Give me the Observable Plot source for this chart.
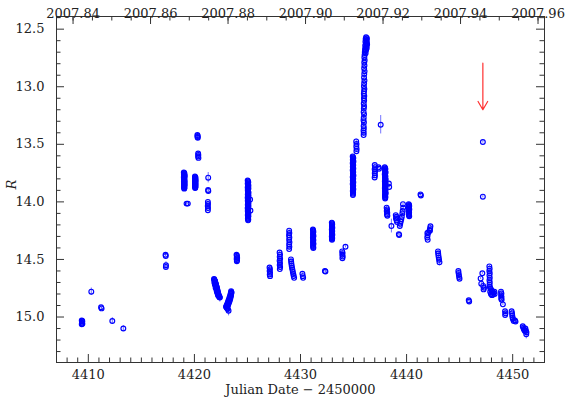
<!DOCTYPE html>
<html><head><meta charset="utf-8">
<script src="https://cdn.jsdelivr.net/npm/d3@7"></script>
<script src="https://cdn.jsdelivr.net/npm/@observablehq/plot@0.6"></script>
<style>body{margin:0;background:#fff}</style>
</head><body><div id="chart"></div>
<script>
// Observations: [JD-2450000, R magnitude, error (optional)]
const early = [
 [4409.38,15.030],[4409.42,15.040],[4409.40,15.050],[4409.44,15.058],[4409.38,15.062],[4409.43,15.035],
 [4410.28,14.780,0.032],
 [4411.20,14.915],[4411.25,14.925],
 [4412.26,15.035,0.03],
 [4413.30,15.100,0.026],
 [4417.28,14.460],[4417.30,14.470],
 [4417.32,14.550,0.03],[4417.31,14.565,0.02]
];
const rise = [
 [4419.00,13.745],[4419.06,13.755],[4419.02,13.765],[4419.08,13.775],[4419.00,13.785],[4419.05,13.795],[4419.02,13.805],[4419.07,13.815],[4419.01,13.825],[4419.06,13.835],[4419.03,13.845],[4419.08,13.855],[4419.02,13.865],[4419.06,13.875],[4419.04,13.885],
 [4419.04,13.750],[4419.01,13.760],[4419.07,13.770],[4419.03,13.780],[4419.06,13.790],[4419.01,13.800],[4419.05,13.810],[4419.03,13.820],[4419.08,13.830],[4419.02,13.840],[4419.06,13.850],[4419.04,13.860],[4419.01,13.870],[4419.05,13.880],
 [4419.26,14.015],[4419.38,14.015],
 [4420.05,13.780],[4420.10,13.790],[4420.06,13.800],[4420.11,13.810],[4420.05,13.820],[4420.10,13.830],[4420.07,13.840],[4420.11,13.850],[4420.05,13.860],[4420.09,13.870],[4420.07,13.880],
 [4420.08,13.785],[4420.05,13.795],[4420.09,13.805],[4420.07,13.815],[4420.10,13.825],[4420.06,13.835],[4420.09,13.845],[4420.06,13.855],[4420.10,13.865],[4420.08,13.875],
 [4420.28,13.420],[4420.31,13.428],[4420.29,13.436],[4420.32,13.443],
 [4420.35,13.580],[4420.37,13.593],[4420.35,13.606],[4420.38,13.618],
 [4421.30,13.790,0.045],[4421.29,13.897],[4421.31,13.905],
 [4421.27,14.000],[4421.28,14.018],[4421.26,14.036],[4421.28,14.054],[4421.27,14.072],
 [4421.85,14.670],[4421.90,14.680],[4421.95,14.690],[4421.88,14.700],[4421.98,14.705],[4422.02,14.715],[4421.93,14.720],[4422.05,14.728],[4422.10,14.740],[4422.00,14.745],[4422.14,14.755],[4422.08,14.765],[4422.18,14.770],[4422.12,14.780],[4422.22,14.785],[4422.18,14.795],[4422.26,14.800],[4422.22,14.810],[4422.30,14.815],[4422.34,14.825],[4422.40,14.830,0.04],
 [4421.87,14.675],[4421.92,14.688],[4421.97,14.700],[4422.00,14.712],[4422.04,14.722],[4422.07,14.735],[4422.11,14.748],[4422.15,14.762],[4422.16,14.775],[4422.20,14.790],[4422.24,14.800],[4422.28,14.808],[4422.32,14.820],[4422.37,14.828],
 [4423.46,14.775],[4423.50,14.790],[4423.42,14.795],[4423.38,14.810],[4423.45,14.815],[4423.33,14.825],[4423.40,14.835],[4423.28,14.840],[4423.35,14.850],[4423.22,14.855],[4423.30,14.865],[4423.16,14.870],[4423.24,14.880],[4423.10,14.885],[4423.18,14.895],[4423.04,14.900],[4423.12,14.905],[4422.98,14.910],[4423.06,14.920],[4423.15,14.930],[4423.22,14.945,0.045],
 [4423.48,14.782],[4423.44,14.800],[4423.40,14.818],[4423.36,14.830],[4423.32,14.845],[4423.26,14.860],[4423.20,14.875],[4423.14,14.890],[4423.08,14.898],[4423.02,14.912],[4423.10,14.925],
 [4423.97,14.460],[4424.01,14.468],[4423.99,14.478],[4424.03,14.488],[4423.98,14.497],[4424.02,14.506],[4424.00,14.516],
 [4425.02,13.815],[4425.08,13.830],[4425.03,13.845],[4425.09,13.860],[4425.02,13.875],[4425.07,13.890],[4425.04,13.905],[4425.10,13.920],[4425.03,13.935],[4425.08,13.950],[4425.02,13.965],[4425.07,13.980],[4425.04,13.995],[4425.10,14.010],[4425.03,14.025],[4425.08,14.040],[4425.02,14.055],[4425.07,14.070],[4425.04,14.085],[4425.09,14.100],[4425.03,14.115],[4425.07,14.130],[4425.04,14.145],[4425.06,14.160],
 [4425.05,13.822],[4425.03,13.837],[4425.07,13.852],[4425.05,13.867],[4425.09,13.882],[4425.03,13.897],[4425.07,13.912],[4425.05,13.927],[4425.09,13.942],[4425.04,13.957],[4425.08,13.972],[4425.03,13.987],[4425.06,14.002],[4425.05,14.017],[4425.09,14.032],[4425.04,14.047],[4425.08,14.062],[4425.03,14.077],[4425.07,14.092],[4425.05,14.107],[4425.09,14.122],[4425.05,14.137],[4425.08,14.152],
 [4425.25,13.980],[4425.28,14.075]
];
const mid = [
 [4427.08,14.570],[4427.12,14.585],[4427.09,14.600],[4427.13,14.615],[4427.10,14.630],[4427.13,14.645],
 [4428.03,14.440],[4428.07,14.458],[4428.04,14.476],[4428.08,14.494],[4428.03,14.512],[4428.07,14.530],[4428.04,14.548],[4428.08,14.566],[4428.05,14.584],
 [4428.93,14.250],[4428.95,14.270],[4428.92,14.290],[4428.95,14.310],[4428.93,14.330],[4428.96,14.350],[4428.93,14.370],[4428.95,14.390],[4428.93,14.410],
 [4429.10,14.500],[4429.12,14.518],[4429.14,14.536],[4429.17,14.554],[4429.20,14.572],[4429.24,14.590],[4429.28,14.608],[4429.32,14.626],[4429.36,14.644],[4429.40,14.660],
 [4430.18,14.625],[4430.22,14.645],[4430.25,14.660],
 [4431.17,14.240],[4431.21,14.258],[4431.18,14.276],[4431.22,14.294],[4431.17,14.312],[4431.21,14.330],[4431.18,14.348],[4431.22,14.366],[4431.19,14.384],[4431.21,14.400],
 [4431.19,14.249],[4431.20,14.267],[4431.19,14.285],[4431.20,14.303],[4431.19,14.321],[4431.20,14.339],[4431.20,14.357],[4431.19,14.375],[4431.20,14.392],
 [4432.30,14.600],[4432.35,14.605],
 [4432.95,14.180],[4432.99,14.195],[4432.96,14.210],[4433.00,14.225],[4432.95,14.240],[4432.99,14.255],[4432.96,14.270],[4433.00,14.285],[4432.95,14.300],[4432.99,14.315],[4432.97,14.330],
 [4432.97,14.187],[4432.97,14.202],[4432.98,14.217],[4432.97,14.232],[4432.98,14.247],[4432.97,14.262],[4432.98,14.277],[4432.97,14.292],[4432.98,14.307],[4432.96,14.322],
 [4433.93,14.430],[4433.97,14.445],[4433.94,14.460],[4433.98,14.475],[4433.95,14.490],
 [4434.24,14.390]
];
const peak = [
 [4434.92,13.605],[4434.98,13.620],[4434.93,13.635],[4434.99,13.650],[4434.92,13.665],[4434.97,13.680],[4434.93,13.695],[4434.98,13.710],[4434.92,13.725],[4434.97,13.740],[4434.94,13.755],[4434.99,13.770],[4434.92,13.785],[4434.97,13.800],[4434.93,13.815],[4434.98,13.830],[4434.92,13.845],[4434.97,13.860],[4434.94,13.875],[4434.98,13.890],[4434.93,13.905],[4434.96,13.920],[4434.94,13.940],
 [4434.95,13.612],[4434.95,13.627],[4434.96,13.642],[4434.95,13.657],[4434.95,13.672],[4434.96,13.687],[4434.95,13.702],[4434.95,13.717],[4434.95,13.732],[4434.96,13.747],[4434.95,13.762],[4434.95,13.777],[4434.96,13.792],[4434.95,13.807],[4434.95,13.822],[4434.96,13.837],[4434.95,13.852],[4434.95,13.867],[4434.96,13.882],[4434.95,13.897],[4434.95,13.912],[4434.95,13.930],
 [4435.25,13.475,0.02],[4435.28,13.497],[4435.26,13.518],[4435.29,13.540],[4435.27,13.560],
 [4436.18,12.570],[4436.26,12.578],[4436.14,12.586],[4436.24,12.594],[4436.20,12.602],[4436.12,12.610],[4436.26,12.618],[4436.18,12.626],[4436.28,12.634],[4436.10,12.642],[4436.22,12.650],[4436.14,12.658],[4436.24,12.666],[4436.08,12.674],[4436.18,12.682],[4436.12,12.690],[4436.06,12.700],[4436.14,12.710],
 [4436.04,12.725],[4436.02,12.745],[4436.05,12.770],[4436.01,12.790],[4436.03,12.815],[4436.00,12.840],[4436.04,12.865],[4436.01,12.890],[4435.99,12.920],[4436.03,12.945],[4436.00,12.970],[4435.98,12.995],[4436.02,13.020],[4435.99,13.040],[4435.97,13.060],[4436.01,13.080],[4435.98,13.100],[4436.00,13.120],[4435.96,13.145],[4435.99,13.170],[4435.97,13.190],[4435.95,13.220],[4435.99,13.240],[4435.96,13.270],[4435.94,13.290],[4435.98,13.310],[4435.95,13.340],[4435.97,13.360],[4435.94,13.380],[4435.96,13.400],[4435.95,13.420],
 [4437.56,13.330,0.08],
 [4437.00,13.680],[4437.03,13.698],[4436.99,13.716],[4437.03,13.734],[4437.00,13.752],[4437.02,13.770],[4436.99,13.788],[4437.36,13.700],[4437.40,13.712],
 [4437.94,13.700],[4438.00,13.715],[4437.95,13.730],[4438.02,13.745],[4437.94,13.760],[4438.00,13.775],[4437.96,13.790],[4438.03,13.805],[4437.95,13.820],[4438.01,13.835],[4437.96,13.850],[4438.03,13.865],[4437.95,13.880],[4438.01,13.895],[4437.97,13.910],[4438.03,13.925],[4437.96,13.940],[4438.00,13.955],[4437.98,13.970],
 [4437.98,13.707],[4437.98,13.722],[4437.99,13.737],[4437.98,13.752],[4437.97,13.767],[4437.99,13.782],[4437.99,13.797],[4437.98,13.812],[4437.98,13.827],[4437.99,13.842],[4437.99,13.857],[4437.98,13.872],[4437.98,13.887],[4437.99,13.902],[4438.00,13.917],[4437.99,13.932],[4437.98,13.947],[4437.99,13.962],
 [4438.33,13.840],[4438.36,13.870],
 [4438.12,14.050],[4438.16,14.065],[4438.13,14.080],[4438.18,14.095],[4438.15,14.110],[4438.19,14.120],
 [4438.57,14.210,0.06],
 [4438.98,14.115],[4439.03,14.130],[4439.00,14.145],[4439.06,14.160],[4439.10,14.175],
 [4439.27,14.280],[4439.30,14.287],
 [4439.66,14.020],[4439.68,14.050],[4439.63,14.080],[4439.60,14.100],[4439.55,14.130],[4439.50,14.150],[4439.45,14.170],[4439.40,14.190],[4439.36,14.210,0.03],
 [4440.20,14.020],[4440.25,14.035],[4440.21,14.050],[4440.26,14.065],[4440.20,14.080],[4440.24,14.095],[4440.21,14.110],[4440.25,14.125],
 [4440.23,14.027],[4440.23,14.042],[4440.23,14.057],[4440.23,14.072],[4440.22,14.087],[4440.23,14.102],[4440.23,14.117],
 [4441.31,13.935],[4441.35,13.945]
];
const decline = [
 [4441.96,14.270],[4441.98,14.290],[4441.95,14.310],[4441.99,14.330],[4442.05,14.265],[4442.18,14.245],[4442.22,14.228],[4442.25,14.212],[4442.20,14.250],
 [4442.96,14.430],[4442.98,14.448],[4443.00,14.466],[4443.03,14.484],[4443.06,14.502],[4443.10,14.525,0.03],
 [4444.88,14.600],[4444.90,14.618],[4444.93,14.636],[4444.96,14.652],[4444.99,14.668],
 [4445.86,14.855],[4445.90,14.865],
 [4447.19,13.480],[4447.19,13.955],
 [4447.14,14.620],[4446.98,14.665],[4447.04,14.710],[4447.22,14.730],[4447.30,14.745],[4447.26,14.760],
 [4447.80,14.560],[4447.83,14.580],[4447.80,14.600],[4447.84,14.620],[4447.81,14.640],[4447.84,14.660],[4447.81,14.680],[4447.84,14.700],[4447.82,14.720],
 [4447.85,14.740],[4447.92,14.755],[4448.00,14.768],[4448.10,14.778],[4448.20,14.788],[4447.95,14.800],[4448.05,14.810],[4448.15,14.805],[4448.28,14.780],[4447.88,14.780],[4448.30,14.800],
 [4448.90,14.780],[4448.94,14.795],[4448.91,14.810],[4448.95,14.825],[4448.92,14.840],[4448.96,14.850],
 [4449.08,14.890],[4449.28,14.950],[4449.32,14.968],[4449.29,14.982],
 [4449.90,14.950],[4449.94,14.968],[4449.96,14.986],[4449.99,15.004],[4450.02,15.018],[4450.10,15.035],[4450.27,15.040],[4450.22,15.030],
 [4450.95,15.080],[4451.00,15.092],[4451.05,15.104],[4451.10,15.112],[4451.20,15.100],[4451.25,15.120],[4451.30,15.132],[4451.15,15.122],[4451.28,15.150,0.04]
];

// Axis ticks and labels
const xTicks = [4410, 4420, 4430, 4440, 4450];
const xTickLabels = ["4410", "4420", "4430", "4440", "4450"];
const yTicks = [12.5, 13.0, 13.5, 14.0, 14.5, 15.0];
const yTickLabels = ["12.5", "13.0", "13.5", "14.0", "14.5", "15.0"];
const yearTicks = [2007.84, 2007.86, 2007.88, 2007.90, 2007.92, 2007.94, 2007.96];
const yearTickLabels = ["2007.84", "2007.86", "2007.88", "2007.90", "2007.92", "2007.94", "2007.96"];
const xLabel = "Julian Date \u2212 2450000";
const yLabel = "R";
// Arrow marking the event
const arrowJD = [4447.19, 4447.19];
const arrowR = [12.795, 13.20];

const obs = [...early, ...rise, ...mid, ...peak, ...decline].map(d => ({jd: d[0], r: d[1], e: d[2] ?? 0.01}));
const toJD = y => 1545 + (y - 2000) * 365.25; // Julian year -> JD-2450000

const W = 565, H = 399, mL = 56, mR = 21, mT = 16, mB = 37;
const pH = H - mT - mB, pW = W - mL - mR;
const xMinor = d3.range(4407, 4454, 1).filter(v => !xTicks.includes(v));
const yMinor = d3.range(124, 154, 1).map(v => v / 10).filter(v => !yTicks.includes(v));
const yearMinor = d3.range(200783.5, 200796.1, 0.5).map(v => toJD(v / 100)).filter(v => v >= 4407 && v <= 4453);
const MAJ = 8, MIN = 4.5, axisCol = "#333";

const chart = Plot.plot({
  width: W, height: H, marginLeft: mL, marginRight: mR, marginTop: mT, marginBottom: mB,
  x: {domain: [4407, 4453], axis: null},
  y: {domain: [12.39, 15.395], reverse: true, axis: null},
  style: {fontFamily: "'DejaVu Serif', serif", fontSize: "13px", background: "white", color: "#222"},
  marks: [
    Plot.frame({stroke: axisCol, strokeWidth: 1}),
    Plot.tickX(xTicks, {x: d => d, insetTop: pH - MAJ, stroke: axisCol}),
    Plot.tickX(xMinor, {x: d => d, insetTop: pH - MIN, stroke: axisCol}),
    Plot.tickX(yearTicks, {x: d => toJD(d), insetBottom: pH - MAJ, stroke: axisCol}),
    Plot.tickX(yearMinor, {x: d => d, insetBottom: pH - MIN, stroke: axisCol}),
    Plot.tickY(yTicks, {y: d => d, insetRight: pW - MAJ, stroke: axisCol}),
    Plot.tickY(yMinor, {y: d => d, insetRight: pW - MIN, stroke: axisCol}),
    Plot.tickY(yTicks, {y: d => d, insetLeft: pW - MAJ, stroke: axisCol}),
    Plot.tickY(yMinor, {y: d => d, insetLeft: pW - MIN, stroke: axisCol}),
    Plot.text(xTicks, {x: d => d, frameAnchor: "bottom", dy: 16, text: (d, i) => xTickLabels[i], fill: "#222"}),
    Plot.text(yearTicks, {x: d => toJD(d), frameAnchor: "top", dy: -8, text: (d, i) => yearTickLabels[i], fill: "#222"}),
    Plot.text(yTicks, {y: d => d, frameAnchor: "left", dx: -12, textAnchor: "end", text: (d, i) => yTickLabels[i], fill: "#222"}),
    Plot.text([xLabel], {frameAnchor: "bottom", dy: 31, text: d => d, fill: "#222", style: "letter-spacing:0.7px"}),
    Plot.text([yLabel], {frameAnchor: "left", dx: -45, rotate: -90, text: d => d, fontStyle: "italic", fill: "#222"}),
    Plot.ruleX(obs, {x: "jd", y1: d => d.r - d.e, y2: d => d.r + d.e, stroke: "#0000ff", strokeOpacity: 0.55, strokeWidth: 1}),
    Plot.dot(obs, {x: "jd", y: "r", r: 2.4, stroke: "#0000ff", strokeWidth: 1.15, fill: "none"}),
    Plot.arrow([0], {x1: () => arrowJD[0], x2: () => arrowJD[1], y1: () => arrowR[0], y2: () => arrowR[1], stroke: "#ff3030", strokeWidth: 1.2, headLength: 12})
  ]
});
document.getElementById("chart").appendChild(chart);
</script>
</body></html>
